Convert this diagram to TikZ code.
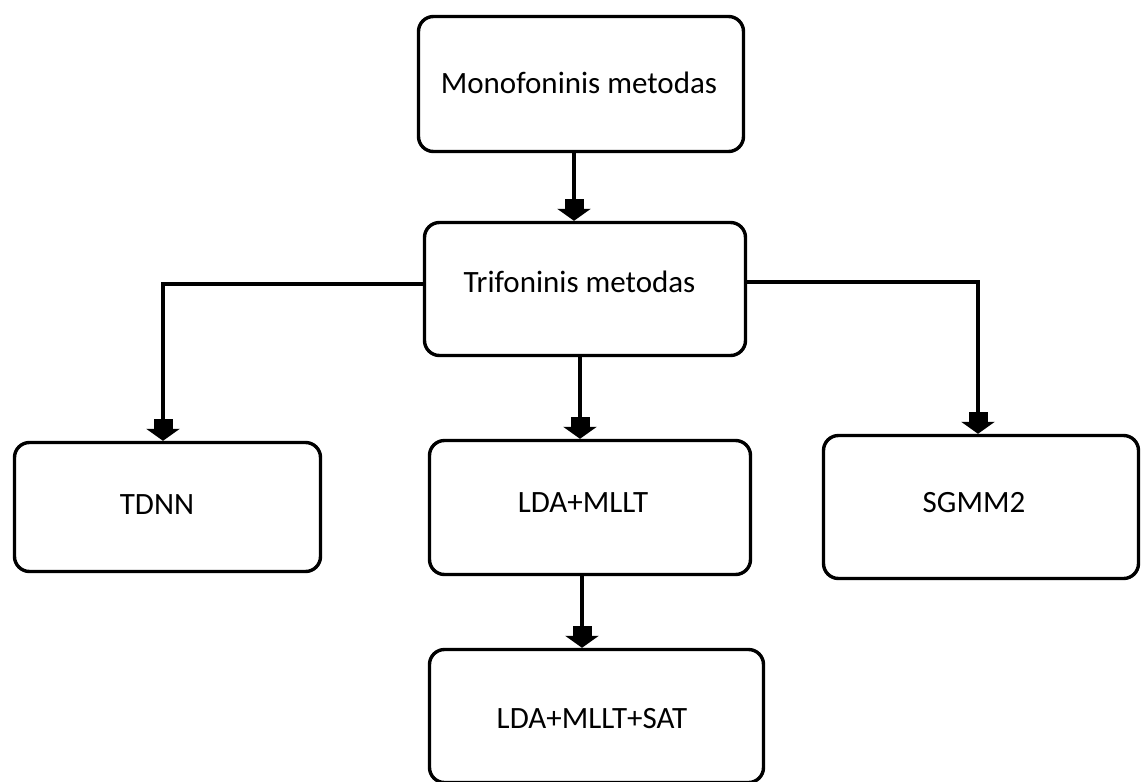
\documentclass[tikz,border=0pt]{standalone}
\usepackage{fontspec}
\setmainfont{Carlito}
\usetikzlibrary{arrows.meta}
\begin{document}
\begin{tikzpicture}[x=1pt,y=-1pt,
  box/.style={draw=black, line width=3.4pt, rounded corners=15pt, fill=white, inner sep=0pt},
  lbl/.style={font=\fontsize{31}{36}\selectfont, text=black, inner sep=0pt},
  conn/.style={line width=3.4pt, draw=black},
  blockarrow/.style={conn, -{Rectangle[width=19pt,length=10pt,sep=0pt]Triangle[width=33pt,length=12pt,sep=0pt]}}
]
\useasboundingbox (0,0) rectangle (1141,782);
\fill[white] (0,0) rectangle (1141,782);

\node[box, minimum width=325pt, minimum height=135pt,
  label={[lbl,xshift=-2pt,yshift=1pt]center:Monofoninis metodas}] (mono) at (581,84) {};
\node[box, minimum width=321pt, minimum height=133pt,
  label={[lbl,xshift=-5.5pt,yshift=7pt]center:Trifoninis metodas}] (tri) at (585,289) {};
\node[box, minimum width=306pt, minimum height=129pt,
  label={[lbl,xshift=-10.5pt,yshift=2pt]center:TDNN}] (tdnn) at (167.5,507) {};
\node[box, minimum width=321pt, minimum height=134pt,
  label={[lbl,xshift=-7pt,yshift=4.5pt]center:LDA+MLLT}] (lda) at (590,507.5) {};
\node[box, minimum width=315pt, minimum height=143pt,
  label={[lbl,xshift=-7pt,yshift=4pt]center:SGMM2}] (sgmm) at (981,507) {};
\node[box, minimum width=334pt, minimum height=133pt,
  label={[lbl,xshift=-4.5pt,yshift=-3pt]center:LDA+MLLT+SAT}] (sat) at (596.5,716) {};

\draw[blockarrow] ([xshift=-7pt]mono.south) -- ([xshift=-7pt]mono.south |- tri.north);
\draw[blockarrow] ([xshift=-5pt]tri.south) -- ([xshift=-5pt]tri.south |- lda.north);
\draw[blockarrow] ([xshift=-8pt]lda.south) -- ([xshift=-8pt]lda.south |- sat.north);
\draw[blockarrow] ([yshift=5pt]tri.west) -| ([xshift=-4.5pt]tdnn.north);
\draw[blockarrow] ([yshift=7pt]tri.east) -| ([xshift=-3pt]sgmm.north);
\end{tikzpicture}
\end{document}
